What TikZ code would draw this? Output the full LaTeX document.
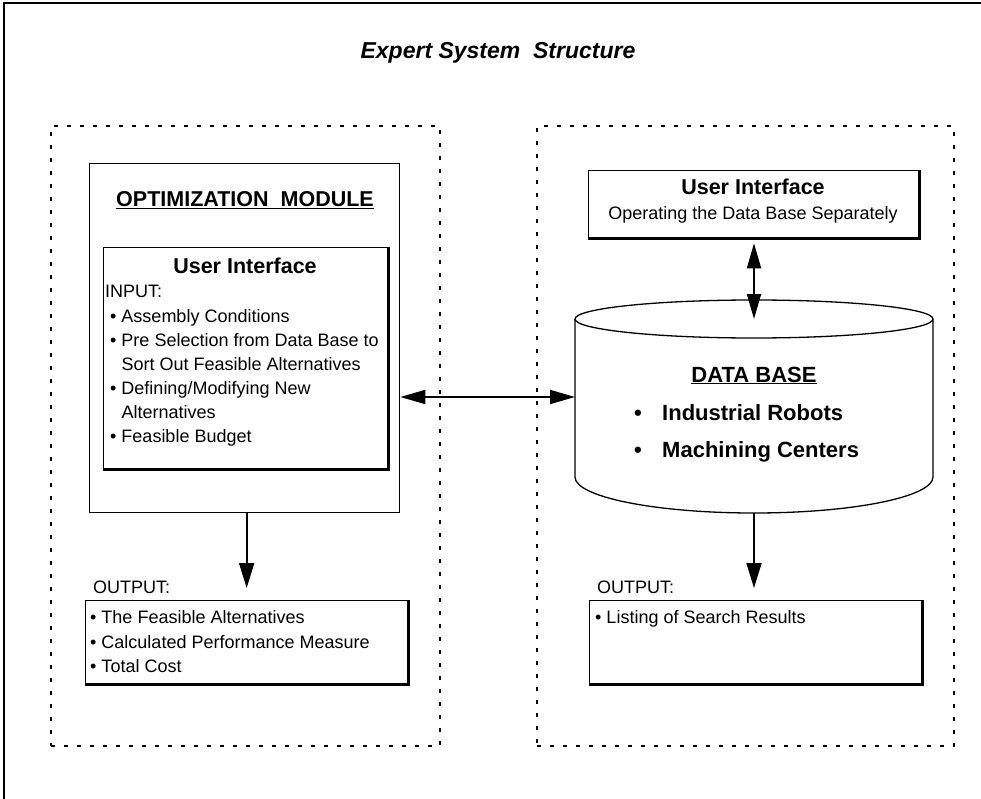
\documentclass[tikz,border=0pt]{standalone}
\usepackage{fontspec}
\setmainfont{Liberation Sans}
\usetikzlibrary{arrows.meta}
\tikzset{
  frameline/.style={line width=2pt},
  dotbox/.style={draw, line width=1.8pt, dash pattern=on 4pt off 9pt, inner sep=0pt, anchor=north west},
  plainbox/.style={draw, line width=1.3pt, inner sep=0pt, anchor=north west},
  shadowline/.style={line width=2.6pt},
  arr/.style={line width=1.8pt, -{Triangle[length=25pt,width=15pt]}},
  darr/.style={line width=1.8pt, {Triangle[length=25pt,width=14pt]}-{Triangle[length=25pt,width=14pt]}},
  reg/.style={font=\fontsize{18}{24}\selectfont, inner sep=0pt, anchor=base west},
  bld/.style={font=\bfseries\fontsize{21.5}{26}\selectfont, inner sep=0pt, anchor=base},
  bldw/.style={font=\bfseries\fontsize{22}{26}\selectfont, inner sep=0pt, anchor=base west},
  ttl/.style={font=\bfseries\itshape\fontsize{23}{27}\selectfont, inner sep=0pt, anchor=base},
}
\begin{document}
\begin{tikzpicture}[x=1pt,y=-1pt]
\useasboundingbox (0,0) rectangle (981,799);
% outer frame (left and top only visible)
\draw[frameline] (3.5,799) -- (3.5,3.5) -- (981,3.5);
% title
\node[ttl] (title) at (498,59) {Expert System\ \ Structure};

% dotted groups
\node[dotbox, minimum width=389pt, minimum height=620pt] (leftgrp) at (50,125) {};
\node[dotbox, minimum width=417pt, minimum height=620pt] (rightgrp) at (536,125) {};

% optimization module box
\node[plainbox, minimum width=310pt, minimum height=349pt] (opt) at (89,163) {};
\node[bld] (opttitle) at (245,207) {\underline{OPTIMIZATION\ \ MODULE}};

% left user interface box
\node[plainbox, minimum width=284pt, minimum height=221pt] (uiL) at (103,247) {};
\draw[shadowline] ([xshift=0.8pt]uiL.north east) -- ([xshift=0.8pt,yshift=-0.8pt]uiL.south east) -- ([yshift=-0.8pt]uiL.south west);
\node[bld] (uiLtitle) at (245,273) {User Interface};
\node[reg] (in0) at (105,298) {INPUT:};
\node[reg] (in1) at (110,322) {•\ Assembly Conditions};
\node[reg] (in2) at (110,346) {•\ Pre Selection from Data Base to};
\node[reg] (in3) at (110,370) {\phantom{•}\ Sort Out Feasible Alternatives};
\node[reg] (in4) at (110,394) {•\ Defining/Modifying New};
\node[reg] (in5) at (110,418) {\phantom{•}\ Alternatives};
\node[reg] (in6) at (110,442) {•\ Feasible Budget};

% left output
\node[reg] (outLlab) at (93,593) {OUTPUT:};
\node[plainbox, minimum width=322pt, minimum height=83pt] (outL) at (85,600) {};
\draw[shadowline] ([xshift=0.8pt]outL.north east) -- ([xshift=0.8pt,yshift=-0.8pt]outL.south east) -- ([yshift=-0.8pt]outL.south west);
\node[reg] (o1) at (90,623) {•\ The Feasible Alternatives};
\node[reg] (o2) at (90,648) {•\ Calculated Performance Measure};
\node[reg] (o3) at (90,672) {•\ Total Cost};

% right user interface box
\node[plainbox, minimum width=330pt, minimum height=67pt] (uiR) at (588,170) {};
\draw[shadowline] ([xshift=0.8pt]uiR.north east) -- ([xshift=0.8pt,yshift=-0.8pt]uiR.south east) -- ([yshift=-0.8pt]uiR.south west);
\node[bld] (uiRtitle) at (753,195) {User Interface};
\node[reg, anchor=base] (uiRtext) at (753,220) {Operating the Data Base Separately};

% data base cylinder
\coordinate (dbc) at (754,319);
\coordinate (dbleft) at (575,397);
\coordinate (dbbot) at (754,513);
\draw[line width=1.3pt, fill=white] (575,319) -- (575,477)
  arc[start angle=180, end angle=360, x radius=179pt, y radius=36pt] -- (933,319);
\draw[line width=1.3pt] (dbc) ellipse [x radius=179pt, y radius=19pt];
\node[bld, font=\bfseries\fontsize{22}{26}\selectfont] (dbtitle) at (754,382) {\underline{DATA BASE}};
\node[bldw] (db1b) at (634,420) {•};
\node[bldw] (db1) at (662,420) {Industrial Robots};
\node[bldw] (db2b) at (634,457) {•};
\node[bldw] (db2) at (662,457) {Machining Centers};

% right output
\node[reg] (outRlab) at (597,593) {OUTPUT:};
\node[plainbox, minimum width=332pt, minimum height=83pt] (outR) at (589,600) {};
\draw[shadowline] ([xshift=0.8pt]outR.north east) -- ([xshift=0.8pt,yshift=-0.8pt]outR.south east) -- ([yshift=-0.8pt]outR.south west);
\node[reg] (r1) at (595,623) {•\ Listing of Search Results};

% connectors
\draw[darr] (opt.east |- dbleft) -- (dbleft);
\draw[darr, shorten <=5pt] (uiR.south -| dbc) -- (dbc);
\draw[arr, shorten >=12pt] ([xshift=2pt]opt.south) -- ([xshift=2pt]opt.south |- outL.north);
\draw[arr, shorten >=12pt] (dbbot) -- (dbbot |- outR.north);
\end{tikzpicture}
\end{document}
